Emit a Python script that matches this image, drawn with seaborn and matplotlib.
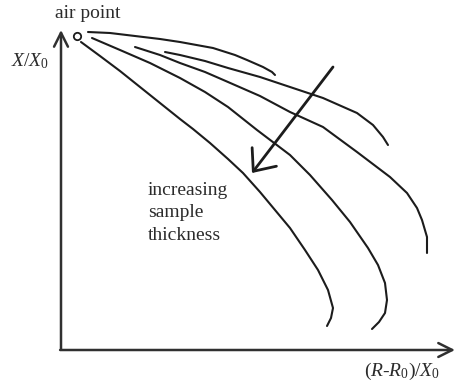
import matplotlib
matplotlib.use("Agg")
import matplotlib.pyplot as plt
import pandas as pd
import seaborn as sns

sns.set_theme(style="white")
plt.rcParams["font.family"] = ["Liberation Serif", "DejaVu Serif"]
plt.rcParams["mathtext.fontset"] = "custom"
plt.rcParams["mathtext.rm"] = "Liberation Serif"
plt.rcParams["mathtext.it"] = "Liberation Serif:italic"

# Schematic trajectories, (R-R0)/X0 on x and X/X0 on y, from thinnest to thickest sample
s1_x = [27, 49, 74, 99, 119, 152, 174, 186, 202, 211, 214]
s1_y = [318, 317, 314, 311, 308, 302, 295, 290, 283, 278, 275]

s2_x = [104, 119, 144, 167, 199, 229, 262, 296, 312, 322, 327]
s2_y = [298, 295, 289, 282, 273, 263, 252, 237, 225, 213, 205]

s3_x = [74, 99, 119, 144, 167, 199, 229, 262, 296, 329, 346, 356, 361, 366, 366]
s3_y = [303, 295, 287, 278, 268, 254, 238, 223, 198, 173, 157, 142, 130, 113, 97]

s4_x = [31, 59, 89, 119, 144, 167, 196, 229, 249, 271, 289, 307, 317, 324, 326, 324, 318, 311]
s4_y = [312, 300, 287, 272, 258, 243, 220, 195, 175, 150, 128, 102, 85, 67, 50, 37, 28, 21]

s5_x = [20, 39, 59, 79, 99, 119, 132, 149, 167, 182, 199, 214, 229, 244, 257, 267, 272, 270, 266]
s5_y = [308, 294, 279, 263, 247, 231, 221, 207, 191, 177, 158, 140, 122, 100, 80, 60, 42, 32, 24]

sample_names = ["s1", "s2", "s3", "s4", "s5"]
sample_x = [s1_x, s2_x, s3_x, s4_x, s5_x]
sample_y = [s1_y, s2_y, s3_y, s4_y, s5_y]

# Common starting point (no sample) and the thickness arrow
air_x, air_y = 16, 314
trend_start = (272, 283)
trend_end = (191, 177)

# Axis extents
x_axis_end = 394
y_axis_end = 320

frames = [pd.DataFrame({"sample": n, "x": xs, "y": ys})
          for n, xs, ys in zip(sample_names, sample_x, sample_y)]
df = pd.concat(frames, ignore_index=True)

fig = plt.figure(figsize=(4.56, 3.82), dpi=100)
ax = fig.add_axes([0, 0, 1, 1])
ax.set_xlim(-61, 395)
ax.set_ylim(-32, 350)
ax.axis("off")

ink = "#1c1c1c"

sns.lineplot(data=df, x="x", y="y", units="sample", estimator=None, sort=False,
             color=ink, linewidth=1.5, legend=False, ax=ax)

# axes drawn as arrows
axis_props = dict(arrowstyle="->,head_length=1.0,head_width=0.5",
                  lw=1.8, color="#303030", shrinkA=0, shrinkB=0, mutation_scale=10)
ax.annotate("", xy=(x_axis_end, 0), xytext=(-0.9, 0), arrowprops=axis_props)
ax.annotate("", xy=(0, y_axis_end), xytext=(0, 0.9), arrowprops=axis_props)

# thickness direction arrow
ax.annotate("", xy=trend_end, xytext=trend_start,
            arrowprops=dict(arrowstyle="->,head_length=1.3,head_width=1.1",
                            lw=2.0, color=ink, shrinkA=0, shrinkB=0,
                            mutation_scale=10))

sns.scatterplot(x=[air_x], y=[air_y], s=28, color="white", edgecolor=ink,
                linewidth=1.3, zorder=5, ax=ax)

txt = "#2b2b2b"
ax.text(27, 331.5, "air point", ha="center", va="baseline", fontsize=14, color=txt)
ax.text(-31, 289, r"$X/X_0$", ha="center", va="center", fontsize=14, color=txt)
ax.text(341, -21.5, r"$(R$-$R_0)/X_0$", ha="center", va="center", fontsize=14, color=txt)
ax.text(87, 168, "increasing\nsample\nthickness", ha="left", va="top",
        fontsize=14, color=txt, linespacing=1.42)

fig.savefig("out.png", dpi=100)
